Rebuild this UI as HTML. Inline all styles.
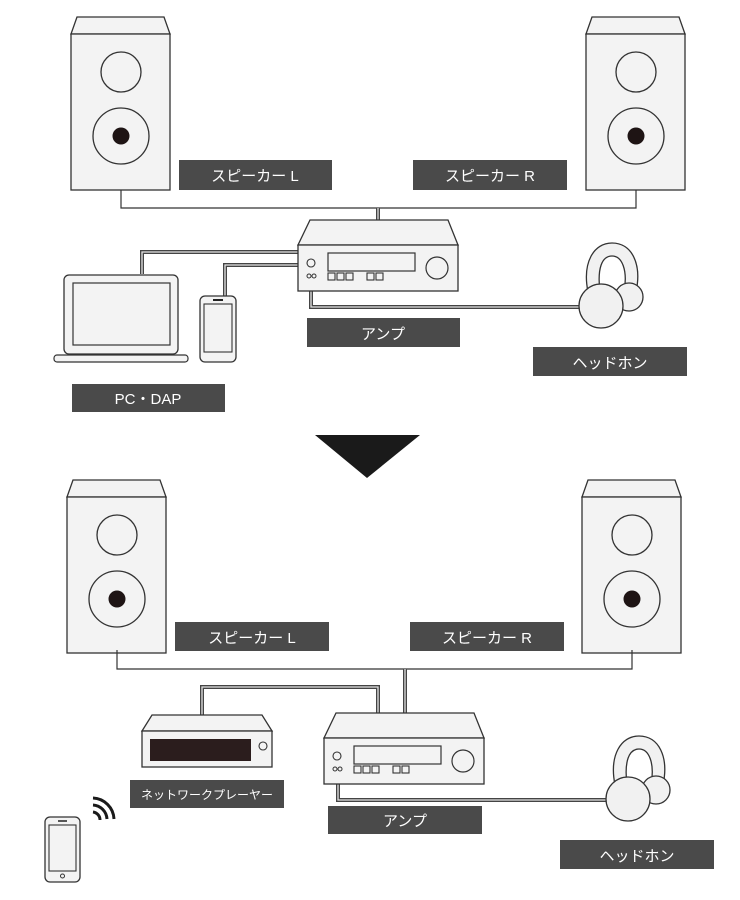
<!DOCTYPE html>
<html><head><meta charset="utf-8"><style>
html,body{margin:0;padding:0;background:#fff;}
svg{display:block;}
text{font-family:"Liberation Sans","Noto Sans CJK JP",sans-serif;fill:#fff;}
</style></head><body>
<svg width="740" height="900" viewBox="0 0 740 900" xmlns="http://www.w3.org/2000/svg">
<defs>
<g id="spk">
 <path d="M77,17 L164,17 L170,34 L71,34 Z" fill="#f3f3f3" stroke="#333" stroke-width="1.3"/>
 <rect x="71" y="34" width="99" height="156" fill="#f3f3f3" stroke="#333" stroke-width="1.3"/>
 <circle cx="121" cy="72" r="20" fill="#f3f3f3" stroke="#333" stroke-width="1.3"/>
 <circle cx="121" cy="136" r="28" fill="#f3f3f3" stroke="#333" stroke-width="1.3"/>
 <circle cx="121" cy="136" r="8.5" fill="#1e1414"/>
</g>
<g id="amp">
 <path d="M310,220 L448,220 L458,245 L298,245 Z" fill="#f3f3f3" stroke="#333" stroke-width="1.3"/>
 <rect x="298" y="245" width="160" height="46" fill="#f3f3f3" stroke="#333" stroke-width="1.3"/>
 <rect x="328" y="253" width="87" height="18" fill="#f3f3f3" stroke="#333" stroke-width="1.2"/>
 <circle cx="437" cy="268" r="11" fill="#f3f3f3" stroke="#333" stroke-width="1.2"/>
 <circle cx="311" cy="263" r="4" fill="none" stroke="#333" stroke-width="1.1"/>
 <circle cx="309" cy="276" r="2" fill="none" stroke="#333" stroke-width="1"/>
 <circle cx="314" cy="276" r="2" fill="none" stroke="#333" stroke-width="1"/>
 <g fill="none" stroke="#333" stroke-width="1.1">
  <rect x="328" y="273" width="7" height="7"/><rect x="337" y="273" width="7" height="7"/><rect x="346" y="273" width="7" height="7"/>
  <rect x="367" y="273" width="7" height="7"/><rect x="376" y="273" width="7" height="7"/>
 </g>
</g>
<g id="hp" fill="#f1f1f1" stroke="#333" stroke-width="1.3">
 <path d="M588,292 C582,262 594,243 612,243 C632,243 642,264 636,292 L624,292 C628,270 622,256 612,256 C602,256 597,268 600,292 Z"/>
 <circle cx="629" cy="297" r="14"/>
 <circle cx="601" cy="306" r="22"/>
</g>
<g id="phone">
 <rect x="0" y="0" width="36" height="66" rx="5" fill="#f3f3f3" stroke="#333" stroke-width="1.3"/>
 <rect x="4" y="8" width="28" height="48" fill="#f3f3f3" stroke="#333" stroke-width="1.1"/>
</g>
</defs>

<use href="#spk"/>
<use href="#spk" transform="translate(515,0)"/>
<polyline points="121,190 121,208 636,208 636,190" fill="none" stroke="#333" stroke-width="1.2"/>
<line x1="378" y1="208" x2="378" y2="221" stroke="#444" stroke-width="4"/>
<line x1="378" y1="208" x2="378" y2="221" stroke="#ddd" stroke-width="1.3"/>
<rect x="179" y="160" width="153" height="30" fill="#4a4a4a"/>
<text x="255" y="181" font-size="15" text-anchor="middle">スピーカー L</text>
<rect x="413" y="160" width="154" height="30" fill="#4a4a4a"/>
<text x="490" y="181" font-size="15" text-anchor="middle">スピーカー R</text>

<g fill="none">
 <polyline points="142,274 142,252 298,252" stroke="#444" stroke-width="4"/>
 <polyline points="142,274 142,252 298,252" stroke="#e4e4e4" stroke-width="1.3"/>
 <polyline points="225,296 225,265 298,265" stroke="#444" stroke-width="4"/>
 <polyline points="225,296 225,265 298,265" stroke="#e4e4e4" stroke-width="1.3"/>
 <polyline points="311,291 311,307 582,307" stroke="#444" stroke-width="4"/>
 <polyline points="311,291 311,307 582,307" stroke="#e4e4e4" stroke-width="1.3"/>
</g>
<use href="#amp"/>
<use href="#hp"/>
<rect x="307" y="318" width="153" height="29" fill="#4a4a4a"/>
<text x="383" y="339" font-size="15" text-anchor="middle">アンプ</text>
<rect x="533" y="347" width="154" height="29" fill="#4a4a4a"/>
<text x="610" y="368" font-size="15" text-anchor="middle">ヘッドホン</text>

<rect x="64" y="275" width="114" height="79" rx="5" fill="#f3f3f3" stroke="#333" stroke-width="1.3"/>
<rect x="73" y="283" width="97" height="62" fill="#f3f3f3" stroke="#333" stroke-width="1.2"/>
<rect x="54" y="355" width="134" height="7" rx="3" fill="#f3f3f3" stroke="#333" stroke-width="1.2"/>
<use href="#phone" transform="translate(200,296)"/>
<line x1="213" y1="300" x2="223" y2="300" stroke="#222" stroke-width="2"/>
<rect x="72" y="384" width="153" height="28" fill="#4a4a4a"/>
<text x="148" y="404" font-size="15" text-anchor="middle">PC・DAP</text>

<polygon points="315,435 420,435 367,478" fill="#1a1a1a"/>

<use href="#spk" transform="translate(-4,463)"/>
<use href="#spk" transform="translate(511,463)"/>
<polyline points="117,650 117,669 632,669 632,650" fill="none" stroke="#333" stroke-width="1.2"/>
<line x1="405" y1="669" x2="405" y2="713" stroke="#444" stroke-width="4"/>
<line x1="405" y1="669" x2="405" y2="713" stroke="#ddd" stroke-width="1.3"/>
<rect x="175" y="622" width="154" height="29" fill="#4a4a4a"/>
<text x="252" y="643" font-size="15" text-anchor="middle">スピーカー L</text>
<rect x="410" y="622" width="154" height="29" fill="#4a4a4a"/>
<text x="487" y="643" font-size="15" text-anchor="middle">スピーカー R</text>

<g fill="none">
 <polyline points="202,716 202,687 378,687 378,713" stroke="#444" stroke-width="4"/>
 <polyline points="202,716 202,687 378,687 378,713" stroke="#e4e4e4" stroke-width="1.3"/>
 <polyline points="338,783 338,800 606,800" stroke="#444" stroke-width="4"/>
 <polyline points="338,783 338,800 606,800" stroke="#e4e4e4" stroke-width="1.3"/>
</g>
<path d="M152,715 L262,715 L272,731 L142,731 Z" fill="#f3f3f3" stroke="#333" stroke-width="1.3"/>
<rect x="142" y="731" width="130" height="36" fill="#f3f3f3" stroke="#333" stroke-width="1.3"/>
<rect x="150" y="739" width="101" height="22" fill="#2b1d1d"/>
<circle cx="263" cy="746" r="4" fill="none" stroke="#333" stroke-width="1.1"/>
<rect x="130" y="780" width="154" height="28" fill="#4a4a4a"/>
<text x="207" y="799" font-size="12" text-anchor="middle">ネットワークプレーヤー</text>

<use href="#amp" transform="translate(26,493)"/>
<use href="#hp" transform="translate(27,493)"/>
<rect x="328" y="806" width="154" height="28" fill="#4a4a4a"/>
<text x="405" y="826" font-size="15" text-anchor="middle">アンプ</text>
<rect x="560" y="840" width="154" height="29" fill="#4a4a4a"/>
<text x="637" y="861" font-size="15" text-anchor="middle">ヘッドホン</text>

<rect x="45" y="817" width="35" height="65" rx="5" fill="#f3f3f3" stroke="#333" stroke-width="1.3"/>
<rect x="49" y="825" width="27" height="46" fill="#f3f3f3" stroke="#333" stroke-width="1.1"/>
<line x1="58" y1="821" x2="67" y2="821" stroke="#222" stroke-width="1.5"/>
<circle cx="62.5" cy="876" r="2" fill="none" stroke="#333" stroke-width="1"/>
<g fill="none" stroke="#1a1a1a" stroke-width="3" stroke-linecap="butt">
 <path d="M93,812 A8,8 0 0 1 100,820"/>
 <path d="M93,805 A15,15 0 0 1 107,819"/>
 <path d="M93,798 A22,22 0 0 1 114,819"/>
</g>
</svg>
</body></html>
